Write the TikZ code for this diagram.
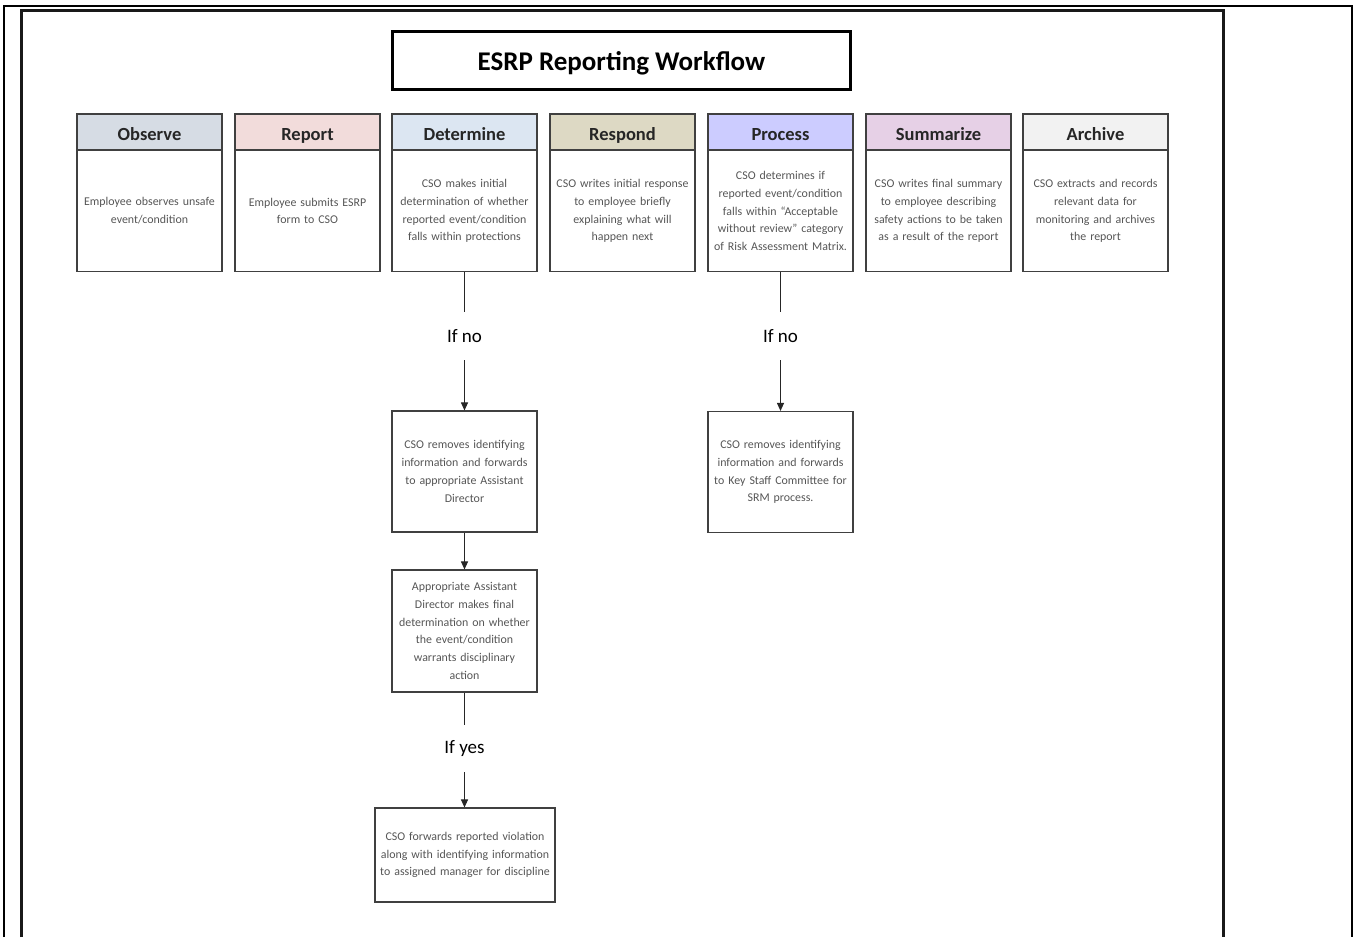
\documentclass[tikz,border=0pt]{standalone}
\usepackage{fontspec}
\setmainfont{Carlito}
\usetikzlibrary{arrows.meta}
\definecolor{hObs}{HTML}{D6DCE4}
\definecolor{hRep}{HTML}{F2DCDB}
\definecolor{hDet}{HTML}{DCE6F2}
\definecolor{hRes}{HTML}{DDD9C4}
\definecolor{hPro}{HTML}{CCCCFF}
\definecolor{hSum}{HTML}{E6D0E6}
\definecolor{hArc}{HTML}{F2F2F2}
\definecolor{boxc}{HTML}{404040}
\definecolor{txtc}{HTML}{555555}
\begin{document}
\begin{tikzpicture}[x=1pt,y=-1pt,
  hdr/.style={draw=boxc, line width=1.1pt, minimum width=145pt, minimum height=36pt, inner sep=0pt,
    text height=16pt, text depth=0pt,
    font=\fontsize{18.5}{20}\selectfont\bfseries, text=black!85},
  bodybox/.style={draw=boxc, line width=1.1pt, minimum width=145pt, minimum height=121pt, inner sep=0pt,
    text width=144pt, align=center, font=\fontsize{11.9}{17.8}\selectfont, text=txtc},
  lbl/.style={inner sep=0pt, font=\fontsize{19}{20}\selectfont, text=black},
  conn/.style={draw=black!85, line width=1pt},
  arr/.style={conn, -{Triangle[length=8pt,width=7pt]}},
  frameo/.style={draw=black, line width=2pt},
  framei/.style={draw=black!90, line width=3pt}
]
\useasboundingbox (0,0) rectangle (1365,937);
% frames
\draw[frameo] (4,937) -- (4,6) -- (1352,6) -- (1352,937);
\draw[framei] (21,937) -- (21,10) -- (1223,10) -- (1223,937);
% title
\node[draw=black, line width=2.5pt, minimum width=458pt, minimum height=58pt, inner sep=0pt,
  text height=20pt, text depth=0pt,
  font=\fontsize{27}{30}\selectfont\bfseries] (title) at (621.5,60.5) {ESRP Reporting Workflow};
% headers
\node[hdr, fill=hObs] (hobs) at (149.5,132) {Observe};
\node[hdr, fill=hRep] (hrep) at (307.5,132) {Report};
\node[hdr, fill=hDet] (hdet) at (464.5,132) {Determine};
\node[hdr, fill=hRes] (hres) at (622.5,132) {Respond};
\node[hdr, fill=hPro] (hpro) at (780.5,132) {Process};
\node[hdr, fill=hSum] (hsum) at (938.5,132) {Summarize};
\node[hdr, fill=hArc] (harc) at (1095.5,132) {Archive};
% bodies
\node[bodybox] (obs) at (149.5,211) {Employee observes unsafe\\event/condition};
\node[bodybox] (rep) at (307.5,211) {Employee submits ESRP\\form to CSO};
\node[bodybox] (det) at (464.5,211) {CSO makes initial\\determination of whether\\reported event/condition\\falls within protections};
\node[bodybox] (res) at (622.5,211) {CSO writes initial response\\to employee briefly\\explaining what will\\happen next};
\node[bodybox] (pro) at (780.5,211) {CSO determines if\\reported event/condition\\falls within ``Acceptable\\without review'' category\\of Risk Assessment Matrix.};
\node[bodybox] (sum) at (938.5,211) {CSO writes final summary\\to employee describing\\safety actions to be taken\\as a result of the report};
\node[bodybox] (arc) at (1095.5,211) {CSO extracts and records\\relevant data for\\monitoring and archives\\the report};
% determine branch
\node[lbl, minimum height=48pt] (ifno1) at (464.5,336) {If no};
\node[bodybox] (rem1) at (464.5,471.5) {CSO removes identifying\\information and forwards\\to appropriate Assistant\\Director};
\node[bodybox, minimum height=122pt] (ad) at (464.5,631) {Appropriate Assistant\\Director makes final\\determination on whether\\the event/condition\\warrants disciplinary\\action};
\node[lbl, minimum height=47pt] (ifyes) at (464.5,748.5) {If yes};
\node[bodybox, minimum width=180pt, minimum height=94pt, text width=179pt] (fwd) at (465,855) {CSO forwards reported violation\\along with identifying information\\to assigned manager for discipline};
% process branch
\node[lbl, minimum height=48pt] (ifno2) at (780.5,336) {If no};
\node[bodybox] (rem2) at (780.5,472) {CSO removes identifying\\information and forwards\\to Key Staff Committee for\\SRM process.};
% connectors
\draw[conn] (det.south) -- (ifno1.north);
\draw[arr] (ifno1.south) -- (rem1.north);
\draw[arr] (rem1.south) -- (ad.north);
\draw[conn] (ad.south) -- (ifyes.north);
\draw[arr] (ifyes.south) -- (ifyes.south |- fwd.north);
\draw[conn] (pro.south) -- (ifno2.north);
\draw[arr] (ifno2.south) -- (rem2.north);
\end{tikzpicture}
\end{document}
